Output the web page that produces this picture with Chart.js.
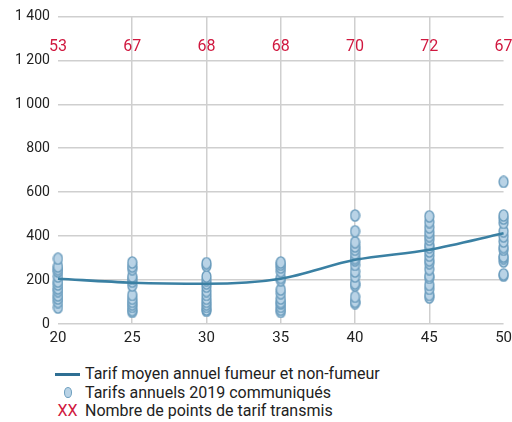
<!DOCTYPE html>
<html>
<head>
<meta charset="utf-8">
<script src="https://cdn.jsdelivr.net/npm/chart.js@4/dist/chart.umd.min.js"></script>
<style>
  html, body { margin: 0; padding: 0; background: #fff; }
  body { width: 512px; height: 422px; overflow: hidden; font-family: Roboto, sans-serif; }
  #wrap { position: relative; width: 517px; height: 352px; }
  #legend { position: absolute; left: 55px; top: 365px; font-size: 16px; color: #222; line-height: 18.5px; }
  #legend div { display: flex; align-items: center; white-space: nowrap; }
  .sym { width: 25px; margin-right: 5px; display: inline-flex; justify-content: center; }
  .ln { width: 25px; height: 3px; background: #2f6f93; }
  .dot { width: 8px; height: 11px; border-radius: 50%; background: #b9d3e6; border: 1.5px solid #6a9cbd; box-sizing: border-box; }
  .xx { color: #d0183f; font-size: 16px; }
</style>
</head>
<body>
<div id="wrap"><canvas id="chart"></canvas></div>
<div id="legend">
  <div><span class="sym"><span class="ln"></span></span>Tarif moyen annuel fumeur et non-fumeur</div>
  <div><span class="sym"><span class="dot"></span></span>Tarifs annuels 2019 communiqués</div>
  <div><span class="sym xx">XX</span>Nombre de points de tarif transmis</div>
</div>
<script>
// Ages and average yearly rate
const ages = [20, 25, 30, 35, 40, 45, 50];
const averageRate = [206, 188, 183, 206, 292, 338, 413];
const pointCounts = [53, 67, 68, 68, 70, 72, 67];

// Reported 2019 rates per age (visible points only)
const rates20 = [75, 100, 116, 130, 150, 162, 180, 193, 216, 239, 250, 262, 297];
const rates25 = [55, 63, 78, 90, 101, 115, 132, 175, 193, 205, 216, 250, 262, 280];
const rates30 = [60, 66, 78, 90, 101, 115, 132, 150, 170, 185, 200, 216, 265, 277];
const rates35 = [55, 65, 78, 93, 100, 116, 140, 157, 200, 210, 240, 257, 270, 280];
const rates40 = [95, 101, 124, 175, 185, 216, 239, 269, 290, 300, 320, 338, 353, 372, 422, 494];
const rates45 = [121, 132, 160, 178, 210, 219, 250, 277, 290, 311, 330, 349, 360, 384, 400, 418, 440, 464, 490];
const rates50 = [220, 226, 285, 300, 307, 338, 350, 376, 399, 422, 460, 480, 494, 647];

const rateLists = [rates20, rates25, rates30, rates35, rates40, rates45, rates50];
const scatterPoints = [];
rateLists.forEach((list, i) => {
  list.forEach((v) => scatterPoints.push({ x: ages[i], y: v }));
});

// Ellipse marker
function makeMarker() {
  const c = document.createElement("canvas");
  c.width = 11;
  c.height = 13;
  const g = c.getContext("2d");
  g.beginPath();
  g.ellipse(5.5, 6.5, 4.4, 5.6, 0, 0, Math.PI * 2);
  g.fillStyle = "#b9d3e6";
  g.fill();
  g.lineWidth = 1.4;
  g.strokeStyle = "#6a9cbd";
  g.stroke();
  return c;
}
const marker = makeMarker();

// Red point counts drawn near the top of the plot
const countLabels = {
  id: "countLabels",
  afterDraw(chart) {
    const { ctx, scales } = chart;
    ctx.save();
    ctx.font = "16px Roboto";
    ctx.fillStyle = "#d0183f";
    ctx.textAlign = "center";
    ctx.textBaseline = "middle";
    ages.forEach((a, i) => {
      ctx.fillText(String(pointCounts[i]), scales.x.getPixelForValue(a), scales.y.getPixelForValue(1260));
    });
    ctx.restore();
  },
};

const ctx = document.getElementById("chart").getContext("2d");
new Chart(ctx, {
  type: "scatter",
  data: {
    datasets: [
      {
        type: "line",
        label: "Tarif moyen annuel fumeur et non-fumeur",
        data: ages.map((a, i) => ({ x: a, y: averageRate[i] })),
        borderColor: "#3a80a3",
        borderWidth: 2.6,
        pointRadius: 0,
        cubicInterpolationMode: "monotone",
        fill: false,
        clip: false,
        order: 0,
      },
      {
        label: "Tarifs annuels 2019 communiqués",
        data: scatterPoints,
        pointStyle: marker,
        pointRadius: 5,
        clip: false,
        order: 1,
      },
    ],
  },
  options: {
    responsive: true,
    maintainAspectRatio: false,
    animation: false,
    layout: { padding: { top: 10, right: 0, left: 7, bottom: 0 } },
    plugins: { legend: { display: false }, tooltip: { enabled: false } },
    scales: {
      x: {
        type: "linear",
        min: 20,
        max: 50,
        border: { display: false },
        grid: {
          color: (c) => (c.tick && (c.tick.value === 20 || c.tick.value === 50) ? "rgba(0,0,0,0)" : "#cfcfcf"),
          lineWidth: 1.5,
          drawTicks: false,
        },
        ticks: { stepSize: 5, color: "#222", font: { family: "Roboto", size: 15 }, padding: 5 },
      },
      y: {
        min: 0,
        max: 1400,
        border: { display: false },
        grid: { color: "#cfcfcf", lineWidth: 1.5, drawTicks: false },
        ticks: {
          stepSize: 200,
          color: "#222",
          font: { family: "Roboto", size: 14 },
          padding: 8,
          callback: (v) => String(v).replace(/\B(?=(\d{3})+(?!\d))/g, " "),
        },
      },
    },
  },
  plugins: [countLabels],
});
</script>
</body>
</html>
